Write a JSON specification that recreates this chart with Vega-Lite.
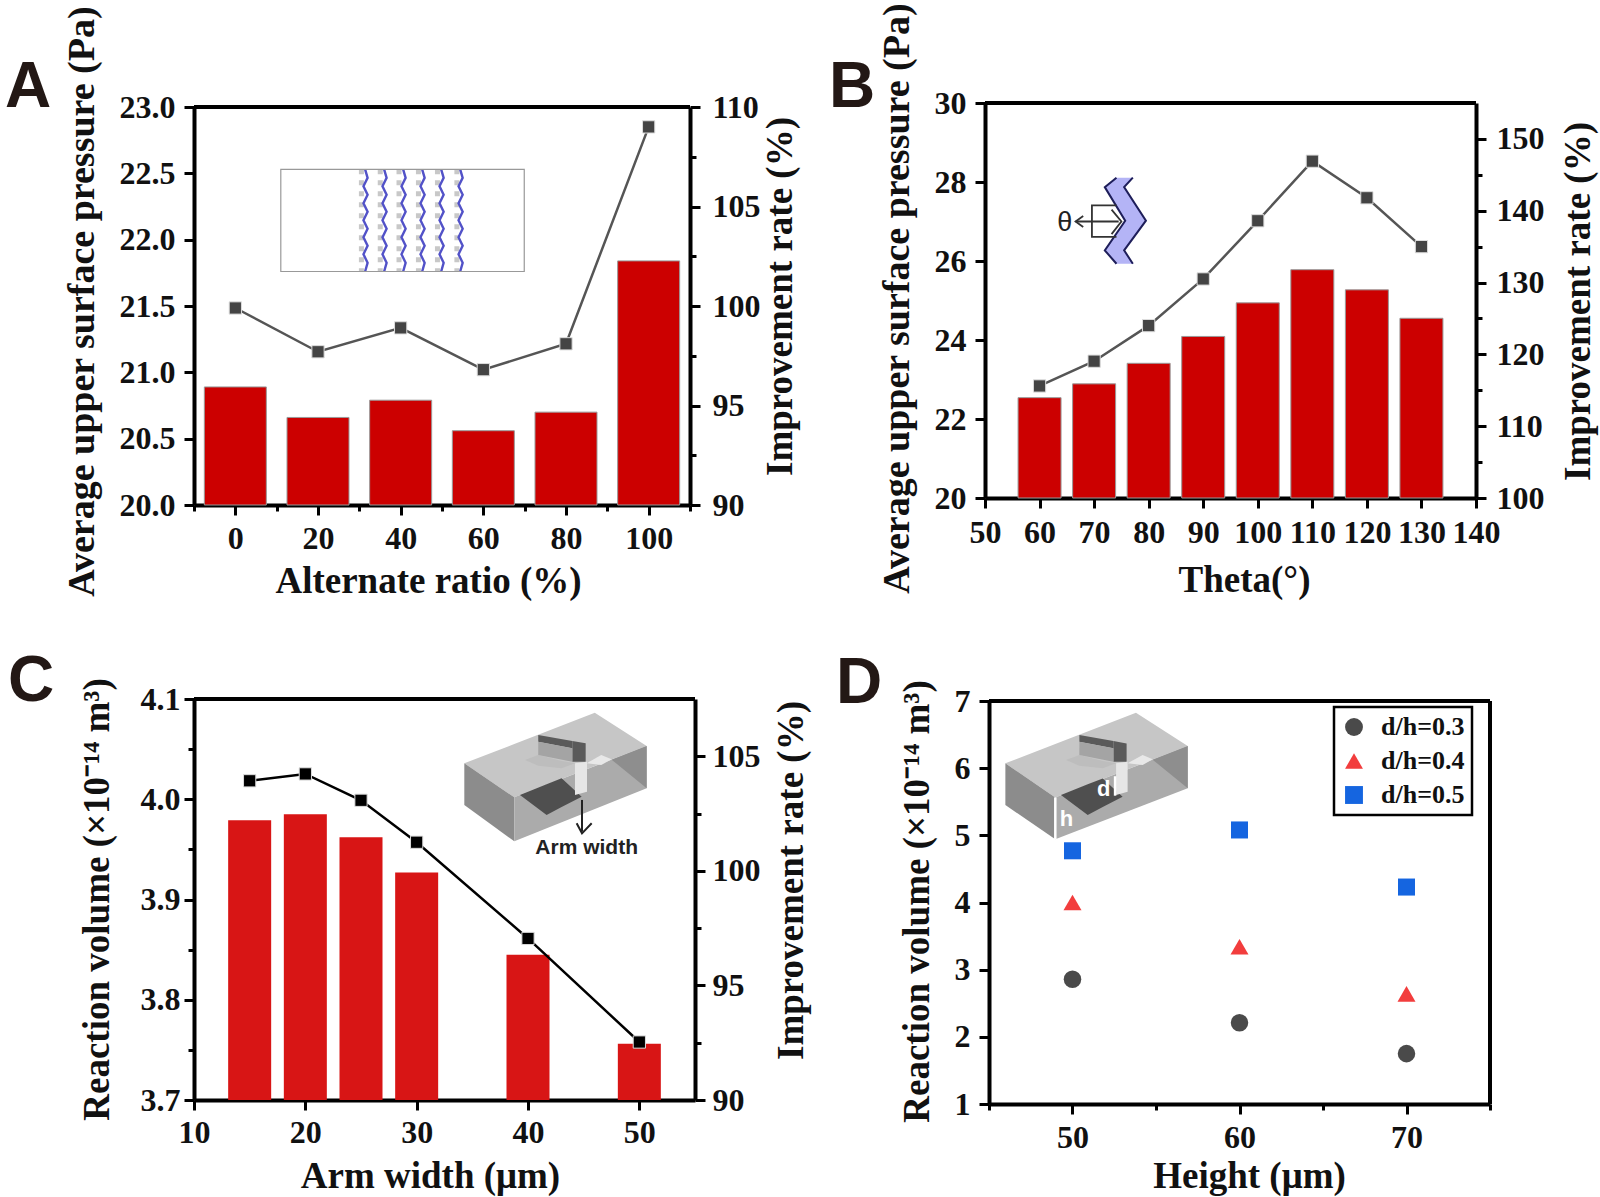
{
  "$schema": "https://vega.github.io/schema/vega-lite/v6.json",
  "background": "white",
  "autosize": {"type": "none"},
  "padding": {"left": 194, "top": 103, "right": 1406, "bottom": 1094},
  "datasets": {
    "a": [
      {"x": 0, "pressure": 20.89, "rate": 99.9},
      {"x": 20, "pressure": 20.66, "rate": 97.7},
      {"x": 40, "pressure": 20.79, "rate": 98.9},
      {"x": 60, "pressure": 20.56, "rate": 96.8},
      {"x": 80, "pressure": 20.7, "rate": 98.1},
      {"x": 100, "pressure": 21.84, "rate": 109.0}
    ],
    "a_columns": [
      {"x": 30.5, "y": 22.53, "y2": 21.76},
      {"x": 35.06, "y": 22.53, "y2": 21.76},
      {"x": 39.6, "y": 22.53, "y2": 21.76},
      {"x": 44.3, "y": 22.53, "y2": 21.76},
      {"x": 48.9, "y": 22.53, "y2": 21.76},
      {"x": 53.6, "y": 22.53, "y2": 21.76}
    ],
    "a_waves": [
      {"w": 1, "p": 0, "x": 31.4, "y": 22.53}, {"w": 1, "p": 1, "x": 32.0, "y": 22.466}, {"w": 1, "p": 2, "x": 31.0, "y": 22.402}, {"w": 1, "p": 3, "x": 32.0, "y": 22.338}, {"w": 1, "p": 4, "x": 31.0, "y": 22.274}, {"w": 1, "p": 5, "x": 32.0, "y": 22.21}, {"w": 1, "p": 6, "x": 31.0, "y": 22.146}, {"w": 1, "p": 7, "x": 32.0, "y": 22.082}, {"w": 1, "p": 8, "x": 31.0, "y": 22.018}, {"w": 1, "p": 9, "x": 32.0, "y": 21.954}, {"w": 1, "p": 10, "x": 31.0, "y": 21.89}, {"w": 1, "p": 11, "x": 32.0, "y": 21.826}, {"w": 1, "p": 12, "x": 31.4, "y": 21.76},
      {"w": 2, "p": 0, "x": 36.0, "y": 22.53}, {"w": 2, "p": 1, "x": 36.6, "y": 22.466}, {"w": 2, "p": 2, "x": 35.6, "y": 22.402}, {"w": 2, "p": 3, "x": 36.6, "y": 22.338}, {"w": 2, "p": 4, "x": 35.6, "y": 22.274}, {"w": 2, "p": 5, "x": 36.6, "y": 22.21}, {"w": 2, "p": 6, "x": 35.6, "y": 22.146}, {"w": 2, "p": 7, "x": 36.6, "y": 22.082}, {"w": 2, "p": 8, "x": 35.6, "y": 22.018}, {"w": 2, "p": 9, "x": 36.6, "y": 21.954}, {"w": 2, "p": 10, "x": 35.6, "y": 21.89}, {"w": 2, "p": 11, "x": 36.6, "y": 21.826}, {"w": 2, "p": 12, "x": 36.0, "y": 21.76},
      {"w": 3, "p": 0, "x": 40.6, "y": 22.53}, {"w": 3, "p": 1, "x": 41.2, "y": 22.466}, {"w": 3, "p": 2, "x": 40.2, "y": 22.402}, {"w": 3, "p": 3, "x": 41.2, "y": 22.338}, {"w": 3, "p": 4, "x": 40.2, "y": 22.274}, {"w": 3, "p": 5, "x": 41.2, "y": 22.21}, {"w": 3, "p": 6, "x": 40.2, "y": 22.146}, {"w": 3, "p": 7, "x": 41.2, "y": 22.082}, {"w": 3, "p": 8, "x": 40.2, "y": 22.018}, {"w": 3, "p": 9, "x": 41.2, "y": 21.954}, {"w": 3, "p": 10, "x": 40.2, "y": 21.89}, {"w": 3, "p": 11, "x": 41.2, "y": 21.826}, {"w": 3, "p": 12, "x": 40.6, "y": 21.76},
      {"w": 4, "p": 0, "x": 45.2, "y": 22.53}, {"w": 4, "p": 1, "x": 45.8, "y": 22.466}, {"w": 4, "p": 2, "x": 44.8, "y": 22.402}, {"w": 4, "p": 3, "x": 45.8, "y": 22.338}, {"w": 4, "p": 4, "x": 44.8, "y": 22.274}, {"w": 4, "p": 5, "x": 45.8, "y": 22.21}, {"w": 4, "p": 6, "x": 44.8, "y": 22.146}, {"w": 4, "p": 7, "x": 45.8, "y": 22.082}, {"w": 4, "p": 8, "x": 44.8, "y": 22.018}, {"w": 4, "p": 9, "x": 45.8, "y": 21.954}, {"w": 4, "p": 10, "x": 44.8, "y": 21.89}, {"w": 4, "p": 11, "x": 45.8, "y": 21.826}, {"w": 4, "p": 12, "x": 45.2, "y": 21.76},
      {"w": 5, "p": 0, "x": 49.8, "y": 22.53}, {"w": 5, "p": 1, "x": 50.4, "y": 22.466}, {"w": 5, "p": 2, "x": 49.4, "y": 22.402}, {"w": 5, "p": 3, "x": 50.4, "y": 22.338}, {"w": 5, "p": 4, "x": 49.4, "y": 22.274}, {"w": 5, "p": 5, "x": 50.4, "y": 22.21}, {"w": 5, "p": 6, "x": 49.4, "y": 22.146}, {"w": 5, "p": 7, "x": 50.4, "y": 22.082}, {"w": 5, "p": 8, "x": 49.4, "y": 22.018}, {"w": 5, "p": 9, "x": 50.4, "y": 21.954}, {"w": 5, "p": 10, "x": 49.4, "y": 21.89}, {"w": 5, "p": 11, "x": 50.4, "y": 21.826}, {"w": 5, "p": 12, "x": 49.8, "y": 21.76},
      {"w": 6, "p": 0, "x": 54.4, "y": 22.53}, {"w": 6, "p": 1, "x": 55.0, "y": 22.466}, {"w": 6, "p": 2, "x": 54.0, "y": 22.402}, {"w": 6, "p": 3, "x": 55.0, "y": 22.338}, {"w": 6, "p": 4, "x": 54.0, "y": 22.274}, {"w": 6, "p": 5, "x": 55.0, "y": 22.21}, {"w": 6, "p": 6, "x": 54.0, "y": 22.146}, {"w": 6, "p": 7, "x": 55.0, "y": 22.082}, {"w": 6, "p": 8, "x": 54.0, "y": 22.018}, {"w": 6, "p": 9, "x": 55.0, "y": 21.954}, {"w": 6, "p": 10, "x": 54.0, "y": 21.89}, {"w": 6, "p": 11, "x": 55.0, "y": 21.826}, {"w": 6, "p": 12, "x": 54.4, "y": 21.76}
    ],
    "b": [
      {"x": 60, "pressure": 22.54, "rate": 115.6},
      {"x": 70, "pressure": 22.89, "rate": 119.05},
      {"x": 80, "pressure": 23.41, "rate": 124.0},
      {"x": 90, "pressure": 24.09, "rate": 130.5},
      {"x": 100, "pressure": 24.94, "rate": 138.6},
      {"x": 110, "pressure": 25.78, "rate": 146.9},
      {"x": 120, "pressure": 25.27, "rate": 141.8},
      {"x": 130, "pressure": 24.55, "rate": 135.0}
    ],
    "b_band": [
      {"y": 28.11, "x": 74.1, "x2": 77.1},
      {"y": 27.87, "x": 71.96, "x2": 75.5},
      {"y": 27.02, "x": 75.7, "x2": 79.5},
      {"y": 26.27, "x": 71.96, "x2": 75.5},
      {"y": 25.93, "x": 74.1, "x2": 77.1}
    ],
    "b_edges": [
      {"e": "left", "p": 0, "x": 74.1, "y": 28.11}, {"e": "left", "p": 1, "x": 71.96, "y": 27.87}, {"e": "left", "p": 2, "x": 75.7, "y": 27.02}, {"e": "left", "p": 3, "x": 71.96, "y": 26.27}, {"e": "left", "p": 4, "x": 74.1, "y": 25.93},
      {"e": "right", "p": 0, "x": 77.1, "y": 28.11}, {"e": "right", "p": 1, "x": 75.5, "y": 27.87}, {"e": "right", "p": 2, "x": 79.5, "y": 27.02}, {"e": "right", "p": 3, "x": 75.5, "y": 26.27}, {"e": "right", "p": 4, "x": 77.1, "y": 25.93}
    ],
    "b_frame": [
      {"e": "frame", "p": 0, "x": 74.1, "y": 27.41}, {"e": "frame", "p": 1, "x": 69.6, "y": 27.41}, {"e": "frame", "p": 2, "x": 69.6, "y": 26.61}, {"e": "frame", "p": 3, "x": 74.1, "y": 26.61},
      {"e": "arrow", "p": 0, "x": 66.6, "y": 27.0}, {"e": "arrow", "p": 1, "x": 74.5, "y": 27.0},
      {"e": "head", "p": 0, "x": 68.0, "y": 27.14}, {"e": "head", "p": 1, "x": 66.6, "y": 27.0}, {"e": "head", "p": 2, "x": 68.0, "y": 26.86},
      {"e": "arc", "p": 0, "x": 73.2, "y": 27.3}, {"e": "arc", "p": 1, "x": 75.0, "y": 27.0}, {"e": "arc", "p": 2, "x": 73.2, "y": 26.68}
    ],
    "b_label": [{"x": 64.6, "y": 26.95, "label": "θ"}],
    "c": [
      {"x": 15, "volume": 3.979, "rate": 103.93},
      {"x": 20, "volume": 3.985, "rate": 104.23},
      {"x": 25, "volume": 3.962, "rate": 103.08},
      {"x": 30, "volume": 3.927, "rate": 101.25},
      {"x": 40, "volume": 3.845, "rate": 97.05},
      {"x": 50, "volume": 3.756, "rate": 92.53}
    ],
    "c_box": [
      {"face": "top", "x": 34.28, "y": 4.0358, "y2": 4.0358}, {"face": "top", "x": 38.77, "y": 4.0551, "y2": 4.0019}, {"face": "top", "x": 46.0, "y": 4.0864, "y2": 4.0332}, {"face": "top", "x": 50.66, "y": 4.0531, "y2": 4.0531},
      {"face": "left", "x": 34.28, "y": 4.0358, "y2": 3.9943}, {"face": "left", "x": 38.77, "y": 4.0019, "y2": 3.958},
      {"face": "front", "x": 38.77, "y": 4.0019, "y2": 3.958}, {"face": "front", "x": 50.66, "y": 4.0531, "y2": 4.0109},
      {"face": "side", "x": 47.51, "y": 4.0395, "y2": 4.0395}, {"face": "side", "x": 50.66, "y": 4.0531, "y2": 4.0109},
      {"face": "glow", "x": 45.27, "y": 4.0358, "y2": 4.0358}, {"face": "glow", "x": 46.58, "y": 4.0441, "y2": 4.0342}, {"face": "glow", "x": 47.51, "y": 4.0398, "y2": 4.0398},
      {"face": "floor", "x": 39.73, "y": 4.0391, "y2": 4.0391}, {"face": "floor", "x": 40.92, "y": 4.0441, "y2": 4.0335}, {"face": "floor", "x": 43.02, "y": 4.0382, "y2": 4.0308}, {"face": "floor", "x": 44.22, "y": 4.0358, "y2": 4.0358},
      {"face": "pad", "x": 39.28, "y": 4.0042, "y2": 4.0042}, {"face": "pad", "x": 41.67, "y": 4.0149, "y2": 3.9843}, {"face": "pad", "x": 43.02, "y": 4.0209, "y2": 3.9923}, {"face": "pad", "x": 44.82, "y": 4.0026, "y2": 4.0026},
      {"face": "arm", "x": 40.92, "y": 4.0641, "y2": 4.0574}, {"face": "arm", "x": 43.98, "y": 4.0581, "y2": 4.0508},
      {"face": "arm2", "x": 43.98, "y": 4.0581, "y2": 4.0375}, {"face": "arm2", "x": 45.18, "y": 4.0558, "y2": 4.0375},
      {"face": "panel", "x": 40.92, "y": 4.0574, "y2": 4.0441}, {"face": "panel", "x": 43.98, "y": 4.0508, "y2": 4.0375},
      {"face": "pillar", "x": 44.22, "y": 4.0358, "y2": 4.0042}, {"face": "pillar", "x": 45.3, "y": 4.0375, "y2": 4.0076}
    ],
    "c_arrow": [
      {"e": "shaft", "p": 0, "x": 44.85, "y": 3.9993}, {"e": "shaft", "p": 1, "x": 44.85, "y": 3.9677},
      {"e": "head", "p": 0, "x": 44.37, "y": 3.976}, {"e": "head", "p": 1, "x": 44.85, "y": 3.966}, {"e": "head", "p": 2, "x": 45.72, "y": 3.976}
    ],
    "c_label": [{"x": 45.27, "y": 3.951, "label": "Arm width"}],
    "d": [
      {"height": 50, "volume": 2.857, "ratio": "d/h=0.3"},
      {"height": 60, "volume": 2.21, "ratio": "d/h=0.3"},
      {"height": 70, "volume": 1.75, "ratio": "d/h=0.3"},
      {"height": 50, "volume": 4.0, "ratio": "d/h=0.4"},
      {"height": 60, "volume": 3.34, "ratio": "d/h=0.4"},
      {"height": 70, "volume": 2.64, "ratio": "d/h=0.4"},
      {"height": 50, "volume": 4.77, "ratio": "d/h=0.5"},
      {"height": 60, "volume": 5.08, "ratio": "d/h=0.5"},
      {"height": 70, "volume": 4.23, "ratio": "d/h=0.5"}
    ],
    "d_box": [
      {"face": "top", "x": 45.98, "y": 6.072, "y2": 6.072}, {"face": "top", "x": 48.97, "y": 6.36, "y2": 5.565}, {"face": "top", "x": 53.8, "y": 6.826, "y2": 6.032}, {"face": "top", "x": 56.9, "y": 6.33, "y2": 6.33},
      {"face": "left", "x": 45.98, "y": 6.072, "y2": 5.451}, {"face": "left", "x": 48.97, "y": 5.565, "y2": 4.94},
      {"face": "front", "x": 48.97, "y": 5.565, "y2": 4.94}, {"face": "front", "x": 56.9, "y": 6.33, "y2": 5.7},
      {"face": "side", "x": 54.8, "y": 6.126, "y2": 6.126}, {"face": "side", "x": 56.9, "y": 6.33, "y2": 5.7},
      {"face": "glow", "x": 53.3, "y": 6.072, "y2": 6.072}, {"face": "glow", "x": 54.2, "y": 6.196, "y2": 6.047}, {"face": "glow", "x": 54.8, "y": 6.131, "y2": 6.131},
      {"face": "floor", "x": 49.61, "y": 6.121, "y2": 6.121}, {"face": "floor", "x": 50.41, "y": 6.196, "y2": 6.037}, {"face": "floor", "x": 51.81, "y": 6.106, "y2": 5.997}, {"face": "floor", "x": 52.61, "y": 6.072, "y2": 6.072},
      {"face": "pad", "x": 49.31, "y": 5.6, "y2": 5.6}, {"face": "pad", "x": 50.91, "y": 5.759, "y2": 5.302}, {"face": "pad", "x": 51.81, "y": 5.848, "y2": 5.421}, {"face": "pad", "x": 53.0, "y": 5.575, "y2": 5.575},
      {"face": "arm", "x": 50.41, "y": 6.493, "y2": 6.394}, {"face": "arm", "x": 52.45, "y": 6.404, "y2": 6.295},
      {"face": "arm2", "x": 52.45, "y": 6.404, "y2": 6.096}, {"face": "arm2", "x": 53.24, "y": 6.369, "y2": 6.096},
      {"face": "panel", "x": 50.41, "y": 6.394, "y2": 6.196}, {"face": "panel", "x": 52.45, "y": 6.295, "y2": 6.096},
      {"face": "pillar", "x": 52.61, "y": 6.072, "y2": 5.6}, {"face": "pillar", "x": 53.3, "y": 6.096, "y2": 5.65}
    ],
    "d_marks": [
      {"e": "h", "p": 0, "x": 48.97, "y": 5.565}, {"e": "h", "p": 1, "x": 48.97, "y": 4.94},
      {"e": "d", "p": 0, "x": 52.55, "y": 5.88}, {"e": "d", "p": 1, "x": 52.55, "y": 5.59}
    ],
    "d_label": [{"x": 51.87, "y": 5.695, "label": "d"}, {"x": 49.64, "y": 5.24, "label": "h"}]
  },
  "concat": [
    {
      "title": {"text": "A", "anchor": "start", "frame": "group", "dx": -189, "dy": 165, "offset": 0, "baseline": "alphabetic"},
      "width": 496,
      "height": 402,
      "layer": [
        {
          "layer": [
            {
              "data": {"name": "a"},
              "mark": {"type": "bar", "orient": "vertical", "size": 62, "color": "#cc0000", "stroke": "#999999", "strokeWidth": 1},
              "encoding": {
                "x": {
                  "field": "x", "type": "quantitative",
                  "scale": {"domain": [-10, 110], "nice": false, "padding": 0},
                  "title": "Alternate ratio (%)",
                  "axis": {
                    "values": [-10, 0, 10, 20, 30, 40, 50, 60, 70, 80, 90, 100, 110],
                    "tickSize": {"condition": {"test": "indexof([0,20,40,60,80,100], datum.value) < 0", "value": 6}, "value": 10},
                    "labelExpr": "indexof([0,20,40,60,80,100], datum.value) >= 0 ? datum.label : ''",
                    "titleX": 234, "titleY": 87, "titleBaseline": "alphabetic", "labelPadding": 8
                  }
                },
                "y": {
                  "field": "pressure", "type": "quantitative", "stack": null,
                  "scale": {"domain": [20, 23], "range": [402, 4], "nice": false},
                  "title": "Average upper surface pressure (Pa)",
                  "axis": {
                    "values": [20, 20.25, 20.5, 20.75, 21, 21.25, 21.5, 21.75, 22, 22.25, 22.5, 22.75, 23],
                    "tickSize": {"condition": {"test": "indexof([20,20.5,21,21.5,22,22.5,23], datum.value) < 0", "value": 6}, "value": 10},
                    "labelExpr": "indexof([20,20.5,21,21.5,22,22.5,23], datum.value) >= 0 ? format(datum.value, '.1f') : ''",
                    "titleX": -112, "titleY": 198, "titleBaseline": "middle", "titleAlign": "center", "titleFontSize": 38
                  }
                }
              }
            },
            {
              "data": {"values": [{"x": -10, "x2": 110, "y": 23}]},
              "mark": {"type": "rule", "color": "black", "strokeWidth": 4},
              "encoding": {"x": {"field": "x", "type": "quantitative"}, "x2": {"field": "x2"}, "y": {"field": "y", "type": "quantitative"}}
            },
            {
              "data": {"name": "a_columns"},
              "mark": {"type": "rule", "color": "#c8c8c8", "strokeWidth": 5, "strokeDash": [5, 6]},
              "encoding": {"x": {"field": "x", "type": "quantitative"}, "y": {"field": "y", "type": "quantitative"}, "y2": {"field": "y2"}}
            },
            {
              "data": {"name": "a_waves"},
              "mark": {"type": "line", "color": "#5252c8", "strokeWidth": 2.4},
              "encoding": {
                "x": {"field": "x", "type": "quantitative"},
                "y": {"field": "y", "type": "quantitative"},
                "detail": {"field": "w"},
                "order": {"field": "p"}
              }
            },
            {
              "data": {"values": [{"x": 11, "x2": 69.9, "y": 22.53, "y2": 21.76}]},
              "mark": {"type": "rect", "fillOpacity": 0, "stroke": "#999999", "strokeWidth": 1.2},
              "encoding": {
                "x": {"field": "x", "type": "quantitative"}, "x2": {"field": "x2"},
                "y": {"field": "y", "type": "quantitative"}, "y2": {"field": "y2"}
              }
            }
          ]
        },
        {
          "data": {"name": "a"},
          "encoding": {
            "x": {"field": "x", "type": "quantitative"},
            "y": {
              "field": "rate", "type": "quantitative",
              "scale": {"domain": [90, 110], "range": [402, 4], "nice": false},
              "title": "Improvement rate (%)",
              "axis": {
                "orient": "right",
                "values": [90, 92.5, 95, 97.5, 100, 102.5, 105, 107.5, 110],
                "tickSize": {"condition": {"test": "indexof([90,95,100,105,110], datum.value) < 0", "value": 6}, "value": 10},
                "labelExpr": "indexof([90,95,100,105,110], datum.value) >= 0 ? datum.label : ''",
                "labelPadding": 12, "titleAngle": 270, "titleX": 90, "titleY": 193, "titleBaseline": "middle", "titleAlign": "center"
              }
            }
          },
          "layer": [
            {"mark": {"type": "line", "color": "#555555", "strokeWidth": 2.5}},
            {"mark": {"type": "point", "shape": "square", "filled": true, "size": 150, "color": "#444444", "stroke": "#dddddd", "strokeWidth": 1, "opacity": 1}}
          ]
        }
      ],
      "resolve": {"scale": {"y": "independent"}}
    },
    {
      "title": {"text": "B", "anchor": "start", "frame": "group", "dx": -156, "dy": 168, "offset": 0, "baseline": "alphabetic"},
      "width": 491,
      "height": 395,
      "layer": [
        {
          "layer": [
            {
              "data": {"name": "b"},
              "mark": {"type": "bar", "orient": "vertical", "size": 43, "color": "#cc0000", "stroke": "#999999", "strokeWidth": 1},
              "encoding": {
                "x": {
                  "field": "x", "type": "quantitative",
                  "scale": {"domain": [50, 140], "nice": false, "padding": 0},
                  "title": "Theta(°)",
                  "axis": {"values": [50, 60, 70, 80, 90, 100, 110, 120, 130, 140], "tickSize": 10, "titleX": 259, "titleY": 93, "titleBaseline": "alphabetic", "labelPadding": 9}
                },
                "y": {
                  "field": "pressure", "type": "quantitative", "stack": null,
                  "scale": {"domain": [20, 30], "nice": false},
                  "title": "Average upper surface pressure (Pa)",
                  "axis": {
                    "values": [20, 21, 22, 23, 24, 25, 26, 27, 28, 29, 30],
                    "tickSize": {"condition": {"test": "indexof([20,22,24,26,28,30], datum.value) < 0", "value": 6}, "value": 10},
                    "labelExpr": "indexof([20,22,24,26,28,30], datum.value) >= 0 ? datum.label : ''",
                    "titleX": -88, "titleY": 195, "titleBaseline": "middle", "titleAlign": "center", "titleFontSize": 38
                  }
                }
              }
            },
            {
              "data": {"values": [{"x": 50, "x2": 140, "y": 30}]},
              "mark": {"type": "rule", "color": "black", "strokeWidth": 4},
              "encoding": {"x": {"field": "x", "type": "quantitative"}, "x2": {"field": "x2"}, "y": {"field": "y", "type": "quantitative"}}
            },
            {
              "data": {"name": "b_band"},
              "mark": {"type": "area", "orient": "horizontal", "color": "#b4b4f6"},
              "encoding": {
                "y": {"field": "y", "type": "quantitative"},
                "x": {"field": "x", "type": "quantitative"},
                "x2": {"field": "x2"}
              }
            },
            {
              "data": {"name": "b_edges"},
              "mark": {"type": "line", "strokeWidth": 2, "color": "#1e1e5a"},
              "encoding": {
                "x": {"field": "x", "type": "quantitative"},
                "y": {"field": "y", "type": "quantitative"},
                "detail": {"field": "e"},
                "order": {"field": "p"}
              }
            },
            {
              "data": {"name": "b_frame"},
              "mark": {"type": "line", "strokeWidth": 1.8, "color": "#333333"},
              "encoding": {
                "x": {"field": "x", "type": "quantitative"},
                "y": {"field": "y", "type": "quantitative"},
                "detail": {"field": "e"},
                "order": {"field": "p"}
              }
            },
            {
              "data": {"name": "b_label"},
              "mark": {"type": "text", "font": "Liberation Sans", "fontSize": 27, "color": "#222222"},
              "encoding": {
                "x": {"field": "x", "type": "quantitative"},
                "y": {"field": "y", "type": "quantitative"},
                "text": {"field": "label"}
              }
            }
          ]
        },
        {
          "data": {"name": "b"},
          "encoding": {
            "x": {"field": "x", "type": "quantitative"},
            "y": {
              "field": "rate", "type": "quantitative",
              "scale": {"domain": [100, 155], "nice": false},
              "title": "Improvement rate (%)",
              "axis": {
                "orient": "right",
                "values": [100, 105, 110, 115, 120, 125, 130, 135, 140, 145, 150],
                "tickSize": {"condition": {"test": "indexof([100,110,120,130,140,150], datum.value) < 0", "value": 6}, "value": 10},
                "labelExpr": "indexof([100,110,120,130,140,150], datum.value) >= 0 ? datum.label : ''",
                "labelPadding": 10, "titleAngle": 270, "titleX": 102, "titleY": 198, "titleBaseline": "middle", "titleAlign": "center"
              }
            }
          },
          "layer": [
            {"mark": {"type": "line", "color": "#555555", "strokeWidth": 2.5}},
            {"mark": {"type": "point", "shape": "square", "filled": true, "size": 150, "color": "#444444", "stroke": "#dddddd", "strokeWidth": 1, "opacity": 1}}
          ]
        }
      ],
      "resolve": {"scale": {"y": "independent"}}
    },
    {
      "title": {"text": "C", "anchor": "start", "frame": "group", "dx": -186, "dy": 87, "offset": 0, "baseline": "alphabetic"},
      "width": 501,
      "height": 401,
      "layer": [
        {
          "layer": [
            {
              "data": {"name": "c"},
              "mark": {"type": "bar", "orient": "vertical", "size": 43, "color": "#d81515"},
              "encoding": {
                "x": {
                  "field": "x", "type": "quantitative",
                  "scale": {"domain": [10, 55], "nice": false, "padding": 0},
                  "title": "Arm width (μm)",
                  "axis": {"values": [10, 20, 30, 40, 50], "tickSize": 10, "titleX": 236, "titleY": 87, "titleBaseline": "alphabetic", "labelPadding": 7}
                },
                "y": {
                  "field": "volume", "type": "quantitative", "stack": null,
                  "scale": {"domain": [3.7, 4.1], "nice": false},
                  "title": "Reaction volume (×10⁻¹⁴ m³)",
                  "axis": {
                    "values": [3.7, 3.75, 3.8, 3.85, 3.9, 3.95, 4.0, 4.05, 4.1],
                    "tickSize": {"condition": {"test": "indexof([3.7,3.8,3.9,4.0,4.1], datum.value) < 0", "value": 6}, "value": 10},
                    "labelExpr": "indexof([3.7,3.8,3.9,4.0,4.1], datum.value) >= 0 ? format(datum.value, '.1f') : ''",
                    "labelPadding": 4, "titleX": -97, "titleY": 200, "titleBaseline": "middle", "titleAlign": "center"
                  }
                }
              }
            },
            {
              "data": {"values": [{"x": 10, "x2": 55, "y": 4.1}]},
              "mark": {"type": "rule", "color": "black", "strokeWidth": 4},
              "encoding": {"x": {"field": "x", "type": "quantitative"}, "x2": {"field": "x2"}, "y": {"field": "y", "type": "quantitative"}}
            },
            {
              "data": {"name": "c_box"},
              "mark": {"type": "area"},
              "encoding": {
                "x": {"field": "x", "type": "quantitative"},
                "y": {"field": "y", "type": "quantitative"},
                "y2": {"field": "y2"},
                "detail": {"field": "face"},
                "fill": {
                  "field": "face", "type": "nominal", "legend": null,
                  "scale": {"domain": ["top", "left", "front", "side", "glow", "floor", "pad", "arm", "arm2", "panel", "pillar"], "range": ["#c6c6c6", "#8c8c8c", "#ababab", "#8e8e8e", "#e8e8e8", "#bdbdbd", "#4f4f4f", "#5a5a5a", "#5a5a5a", "#a4a4a4", "#e6e6e6"]}
                }
              }
            },
            {
              "data": {"name": "c_arrow"},
              "mark": {"type": "line", "color": "#222222", "strokeWidth": 2},
              "encoding": {
                "x": {"field": "x", "type": "quantitative"},
                "y": {"field": "y", "type": "quantitative"},
                "detail": {"field": "e"},
                "order": {"field": "p"}
              }
            },
            {
              "data": {"name": "c_label"},
              "mark": {"type": "text", "font": "Liberation Sans", "fontWeight": "bold", "fontSize": 21, "color": "#222222"},
              "encoding": {
                "x": {"field": "x", "type": "quantitative"},
                "y": {"field": "y", "type": "quantitative"},
                "text": {"field": "label"}
              }
            }
          ]
        },
        {
          "data": {"name": "c"},
          "encoding": {
            "x": {"field": "x", "type": "quantitative"},
            "y": {
              "field": "rate", "type": "quantitative",
              "scale": {"domain": [90, 107.5], "nice": false},
              "title": "Improvement rate (%)",
              "axis": {
                "orient": "right",
                "values": [90, 92.5, 95, 97.5, 100, 102.5, 105],
                "tickSize": {"condition": {"test": "indexof([90,95,100,105], datum.value) < 0", "value": 6}, "value": 10},
                "labelExpr": "indexof([90,95,100,105], datum.value) >= 0 ? datum.label : ''",
                "labelPadding": 7, "titleAngle": 270, "titleX": 96, "titleY": 181, "titleBaseline": "middle", "titleAlign": "center"
              }
            }
          },
          "layer": [
            {"mark": {"type": "line", "color": "#000000", "strokeWidth": 2.5}},
            {"mark": {"type": "point", "shape": "square", "filled": true, "size": 150, "color": "#000000", "stroke": "#dddddd", "strokeWidth": 1, "opacity": 1}}
          ]
        }
      ],
      "resolve": {"scale": {"y": "independent"}}
    },
    {
      "title": {"text": "D", "anchor": "start", "frame": "group", "dx": -149, "dy": 87, "offset": 0, "baseline": "alphabetic"},
      "width": 505,
      "height": 405,
      "layer": [
        {
          "data": {"name": "d_box"},
          "mark": {"type": "area"},
          "encoding": {
            "x": {
              "field": "x", "type": "quantitative",
              "scale": {"domain": [45, 75], "range": [4, 505], "nice": false},
              "title": "Height (μm)",
              "axis": {
                "values": [45, 50, 55, 60, 65, 70, 75],
                "tickSize": {"condition": {"test": "indexof([50,60,70], datum.value) < 0", "value": 6}, "value": 10},
                "labelExpr": "indexof([50,60,70], datum.value) >= 0 ? datum.label : ''",
                "titleX": 264, "titleY": 83, "titleBaseline": "alphabetic", "labelPadding": 8
              }
            },
            "y": {
              "field": "y", "type": "quantitative",
              "scale": {"domain": [1, 7], "range": [405, 2], "nice": false},
              "title": "Reaction volume (×10⁻¹⁴ m³)",
              "axis": {
                "offset": -4,
                "values": [1, 1.5, 2, 2.5, 3, 3.5, 4, 4.5, 5, 5.5, 6, 6.5, 7],
                "tickSize": {"condition": {"test": "indexof([1,2,3,4,5,6,7], datum.value) < 0", "value": 6}, "value": 10},
                "labelExpr": "indexof([1,2,3,4,5,6,7], datum.value) >= 0 ? format(datum.value, 'd') : ''",
                "titleX": -72, "titleY": 202, "titleBaseline": "middle", "titleAlign": "center"
              }
            },
            "y2": {"field": "y2"},
            "detail": {"field": "face"},
            "fill": {
              "field": "face", "type": "nominal", "legend": null,
              "scale": {"domain": ["top", "left", "front", "side", "glow", "floor", "pad", "arm", "arm2", "panel", "pillar"], "range": ["#c6c6c6", "#8c8c8c", "#ababab", "#8e8e8e", "#e8e8e8", "#bdbdbd", "#4f4f4f", "#5a5a5a", "#5a5a5a", "#a4a4a4", "#e6e6e6"]}
            }
          }
        },
        {
          "data": {"name": "d_marks"},
          "mark": {"type": "line", "color": "white", "strokeWidth": 2.5},
          "encoding": {
            "x": {"field": "x", "type": "quantitative"},
            "y": {"field": "y", "type": "quantitative"},
            "detail": {"field": "e"},
            "order": {"field": "p"}
          }
        },
        {
          "data": {"name": "d_label"},
          "mark": {"type": "text", "font": "Liberation Sans", "fontWeight": "bold", "fontSize": 22, "color": "white"},
          "encoding": {
            "x": {"field": "x", "type": "quantitative"},
            "y": {"field": "y", "type": "quantitative"},
            "text": {"field": "label"}
          }
        },
        {
          "data": {"values": [{"x": 45, "x2": 75, "y": 7}]},
          "mark": {"type": "rule", "color": "black", "strokeWidth": 4},
          "encoding": {"x": {"field": "x", "type": "quantitative"}, "x2": {"field": "x2"}, "y": {"field": "y", "type": "quantitative"}}
        },
        {
          "data": {"values": [{"x": 75, "y": 1, "y2": 7}]},
          "mark": {"type": "rule", "color": "black", "strokeWidth": 4},
          "encoding": {"x": {"field": "x", "type": "quantitative"}, "y": {"field": "y", "type": "quantitative"}, "y2": {"field": "y2"}}
        },
        {
          "data": {"name": "d"},
          "mark": {"type": "point", "filled": true, "opacity": 1},
          "encoding": {
            "x": {"field": "height", "type": "quantitative"},
            "y": {"field": "volume", "type": "quantitative"},
            "size": {
              "field": "ratio", "type": "ordinal", "legend": null,
              "scale": {"domain": ["d/h=0.5", "d/h=0.3", "d/h=0.4"], "range": [290, 324, 560]}
            },
            "shape": {
              "field": "ratio", "type": "nominal",
              "scale": {"domain": ["d/h=0.3", "d/h=0.4", "d/h=0.5"], "range": ["circle", "triangle-up", "square"]},
              "legend": {"orient": "none", "legendX": 1140, "legendY": 604, "title": null, "symbolSize": 320, "labelFontSize": 26, "labelFontWeight": "bold", "labelFont": "Liberation Serif", "labelColor": "#111111", "labelOffset": 14, "strokeColor": "black", "fillColor": "white", "padding": 7, "rowPadding": 8}
            },
            "color": {
              "field": "ratio", "type": "nominal",
              "scale": {"domain": ["d/h=0.3", "d/h=0.4", "d/h=0.5"], "range": ["#4a4a4a", "#f23d3d", "#1565e0"]},
              "legend": {"orient": "none", "legendX": 1140, "legendY": 604, "title": null, "symbolSize": 320, "labelFontSize": 26, "labelFontWeight": "bold", "labelFont": "Liberation Serif", "labelColor": "#111111", "labelOffset": 14, "strokeColor": "black", "fillColor": "white", "padding": 7, "rowPadding": 8}
            }
          }
        }
      ]
    }
  ],
  "columns": 2,
  "bounds": "flush",
  "align": "each",
  "spacing": {"row": 194, "column": 290},
  "config": {
    "view": {"stroke": null},
    "title": {"font": "Liberation Sans", "fontWeight": "bold", "fontSize": 64, "color": "#231815"},
    "legend": {"strokeWidth": 2.5},
    "axis": {
      "grid": false,
      "labelFont": "Liberation Serif",
      "labelFontWeight": "bold",
      "labelFontSize": 32,
      "labelColor": "#111111",
      "labelOverlap": false,
      "labelBound": false,
      "labelFlush": false,
      "labelPadding": 9,
      "titleFont": "Liberation Serif",
      "titleFontWeight": "bold",
      "titleFontSize": 37,
      "titleColor": "#111111",
      "domainColor": "#000000",
      "domainWidth": 4,
      "tickColor": "#000000",
      "tickWidth": 3,
      "zindex": 1
    }
  }
}
